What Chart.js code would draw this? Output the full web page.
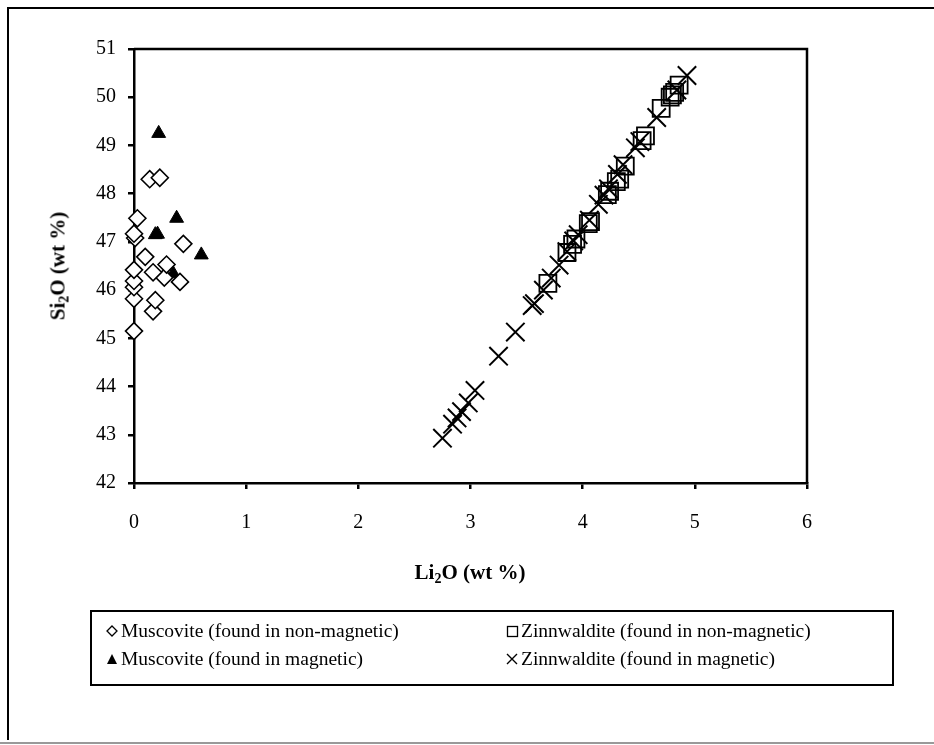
<!DOCTYPE html>
<html>
<head>
<meta charset="utf-8">
<script src="https://cdn.jsdelivr.net/npm/chart.js@4/dist/chart.umd.min.js"></script>
<style>
  html, body { margin: 0; padding: 0; background: #fff; }
  #wrap { position: relative; width: 934px; height: 745px; overflow: hidden; font-family: "Liberation Serif", "Times New Roman", serif; }
  #frame { position: absolute; left: 7px; top: 7px; width: 940px; height: 733px; border-left: 2px solid #000; border-top: 2px solid #000; box-sizing: border-box; }
  #bottomline { position: absolute; left: 0; top: 742px; width: 934px; height: 2px; background: #999; }
  #chart { position: absolute; left: 0; top: 0; }
  .axtitle { position: absolute; font-weight: bold; font-size: 21px; color: #000; white-space: nowrap; }
  .axtitle sub { font-size: 14px; vertical-align: -4px; line-height: 0; }
  #xtitle { left: 470px; top: 572px; transform: translate(-50%, -50%); }
  #ytitle { left: 58px; top: 266px; transform: translate(-50%, -50%) rotate(-90deg); }
  #legend { position: absolute; left: 90px; top: 610px; width: 804px; height: 76px; border: 2px solid #000; box-sizing: border-box; font-size: 19.5px; }
  .item { position: absolute; display: flex; align-items: center; white-space: nowrap; }
  .item svg { margin-right: 2px; }
</style>
</head>
<body>
<div id="wrap">
  <div id="frame"></div>
  <div id="bottomline"></div>
  <canvas id="chart" width="934" height="745"></canvas>
  <div class="axtitle" id="xtitle">Li<sub>2</sub>O (wt %)</div>
  <div class="axtitle" id="ytitle">Si<sub>2</sub>O (wt %)</div>
  <div id="legend"></div>
</div>
<script>
// Li2O / Si2O (wt %) analyses of micas
const seriesNames = [
  'Muscovite (found in non-magnetic)',
  'Muscovite (found in magnetic)',
  'Zinnwaldite (found in non-magnetic)',
  'Zinnwaldite (found in magnetic)'
];

// Muscovite, non-magnetic fraction
const muscNonMagLi = [0.00, 0.17, 0.19, 0.00, 0.00, 0.00, 0.41, 0.27, 0.17, 0.00, 0.29, 0.10, 0.44, 0.01, 0.00, 0.03, 0.14, 0.23];
const muscNonMagSi = [45.15, 45.56, 45.79, 45.82, 46.06, 46.19, 46.17, 46.26, 46.37, 46.42, 46.53, 46.69, 46.96, 47.08, 47.17, 47.49, 48.30, 48.33];

// Muscovite, magnetic fraction
const muscMagLi = [0.22, 0.19, 0.21, 0.38, 0.60, 0.35];
const muscMagSi = [49.25, 47.15, 47.16, 47.49, 46.73, 46.34];

// Zinnwaldite, non-magnetic fraction
const zinnNonMagLi = [3.69, 3.86, 3.91, 3.94, 4.05, 4.07, 4.22, 4.24, 4.30, 4.33, 4.38, 4.53, 4.56, 4.70, 4.78, 4.80, 4.82, 4.86];
const zinnNonMagSi = [46.14, 46.78, 46.95, 47.06, 47.38, 47.42, 47.98, 48.05, 48.25, 48.30, 48.57, 49.10, 49.20, 49.77, 50.00, 50.05, 50.10, 50.25];

// Zinnwaldite, magnetic fraction
const zinnMagLi = [2.75, 2.84, 2.88, 2.92, 2.98, 3.04, 3.25, 3.40, 3.55, 3.57, 3.65, 3.72, 3.79, 3.86, 3.92, 3.96, 4.06, 4.14, 4.19, 4.23, 4.31, 4.36, 4.47, 4.51, 4.66, 4.84, 4.93];
const zinnMagSi = [42.93, 43.22, 43.35, 43.48, 43.66, 43.92, 44.63, 45.13, 45.68, 45.72, 46.00, 46.25, 46.52, 46.80, 47.02, 47.15, 47.45, 47.78, 47.97, 48.10, 48.40, 48.60, 48.95, 49.08, 49.58, 50.15, 50.45];

const xTicks = [0, 1, 2, 3, 4, 5, 6];
const yTicks = [42, 43, 44, 45, 46, 47, 48, 49, 50, 51];

const pts = (xs, ys) => xs.map((x, i) => ({ x: x, y: ys[i] }));

const styles = [
  { pointStyle: 'rectRot', radius: 8.5, backgroundColor: '#fff', borderColor: '#000', borderWidth: 1.6 },
  { pointStyle: 'triangle', radius: 8, backgroundColor: '#000', borderColor: '#000', borderWidth: 1 },
  { pointStyle: 'rect', radius: 12, backgroundColor: 'rgba(0,0,0,0)', borderColor: '#000', borderWidth: 1.8 },
  { pointStyle: 'crossRot', radius: 13, backgroundColor: '#000', borderColor: '#000', borderWidth: 2 }
];

const dataSets = [
  pts(muscNonMagLi, muscNonMagSi),
  pts(muscMagLi, muscMagSi),
  pts(zinnNonMagLi, zinnNonMagSi),
  pts(zinnMagLi, zinnMagSi)
];

const datasets = dataSets.map((d, i) => ({
  label: seriesNames[i],
  data: d,
  showLine: false,
  pointStyle: styles[i].pointStyle,
  pointRadius: styles[i].radius,
  pointHoverRadius: styles[i].radius,
  pointBackgroundColor: styles[i].backgroundColor,
  pointBorderColor: styles[i].borderColor,
  pointBorderWidth: styles[i].borderWidth,
  clip: false
}));

// Plot frame: draws the top and right edges of the plotting area
const plotFrame = {
  id: 'plotFrame',
  afterDatasetsDraw(chart) {
    const a = chart.chartArea, ctx = chart.ctx;
    ctx.save();
    ctx.strokeStyle = '#000';
    ctx.lineWidth = 2.5;
    ctx.beginPath();
    ctx.moveTo(a.left, a.top);
    ctx.lineTo(a.right, a.top);
    ctx.lineTo(a.right, a.bottom);
    ctx.stroke();
    ctx.restore();
  }
};

const tickFont = { family: '"Liberation Serif", "Times New Roman", serif', size: 20 };

const chart = new Chart(document.getElementById('chart'), {
  type: 'scatter',
  data: { datasets: datasets },
  options: {
    responsive: false,
    animation: false,
    events: [],
    layout: { padding: { left: 0, top: 49, right: 127, bottom: 202 } },
    plugins: { legend: { display: false }, tooltip: { enabled: false } },
    scales: {
      x: {
        type: 'linear', min: xTicks[0], max: xTicks[xTicks.length - 1],
        afterBuildTicks: s => { s.ticks = xTicks.map(v => ({ value: v })); },
        afterFit: s => { s.height = 60; },
        grid: { drawOnChartArea: false, drawTicks: true, tickLength: 6, color: '#000', lineWidth: 2.5 },
        border: { display: true, color: '#000', width: 2.5 },
        ticks: { color: '#000', font: tickFont, padding: 22, maxRotation: 0 }
      },
      y: {
        type: 'linear', min: yTicks[0], max: yTicks[yTicks.length - 1],
        afterBuildTicks: s => { s.ticks = yTicks.map(v => ({ value: v })); },
        afterFit: s => { s.width = 134; },
        grid: { drawOnChartArea: false, drawTicks: true, tickLength: 6, color: '#000', lineWidth: 2.5 },
        border: { display: true, color: '#000', width: 2.5 },
        ticks: { color: '#000', font: tickFont, padding: 12 }
      }
    }
  },
  plugins: [plotFrame]
});

// Legend built from the chart's datasets, two columns inside a boxed panel
(function buildLegend() {
  const box = document.getElementById('legend');
  const pos = [[14, 8], [14, 36], [414, 8], [414, 36]];
  const glyph = {
    rectRot: '<polygon points="6,1 11,6 6,11 1,6" fill="#fff" stroke="#000" stroke-width="1.3"/>',
    triangle: '<polygon points="6,1 11,11 1,11" fill="#000"/>',
    rect: '<rect x="1.5" y="1.5" width="10" height="10" fill="none" stroke="#000" stroke-width="1.3"/>',
    crossRot: '<path d="M1,1 L11,11 M11,1 L1,11" stroke="#000" stroke-width="1.4"/>'
  };
  chart.data.datasets.forEach((ds, i) => {
    const el = document.createElement('div');
    el.className = 'item';
    el.style.left = pos[i][0] + 'px';
    el.style.top = pos[i][1] + 'px';
    el.innerHTML = '<svg width="13" height="13" viewBox="0 0 13 13">' + glyph[ds.pointStyle] + '</svg><span>' + ds.label + '</span>';
    box.appendChild(el);
  });
})();
</script>
</body>
</html>
